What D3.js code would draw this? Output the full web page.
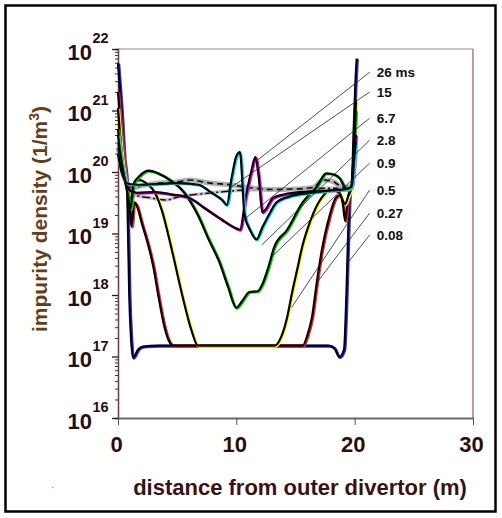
<!DOCTYPE html>
<html>
<head>
<meta charset="utf-8">
<script src="https://cdn.jsdelivr.net/npm/d3@7"></script>
<style>
  body { margin: 0; background: #fff; }
  svg { display: block; }
</style>
</head>
<body>
<svg width="502" height="518"></svg>
<script>

// profiles: [distance (m), density (1/m3)]
var s008 = [[0,5.9e21],[0.3,1e21],[0.55,1.6e20],[0.75,6.5e19],[0.85,1e19],[0.95,1e18],[1.1,2e17],[1.27,9.5e16],[1.7,1.3e17],[2.1,1.45e17],[3.4,1.5e17],[10,1.5e17],[17.8,1.5e17],[18.3,1.35e17],[18.7,9.8e16],[19.1,1.3e17],[19.3,1e18],[19.45,1e19],[19.6,5e19],[19.75,5.8e19],[19.9,4e20],[20.05,2.5e21],[20.17,7e21]];
var s027 = [[0,2e21],[0.3,4e20],[0.6,1e20],[0.8,6e19],[1.0,2.5e19],[1.15,1.3e19],[1.35,3.2e19],[1.6,2.8e19],[2.0,1.5e19],[2.6,6e18],[3.0,2.8e18],[3.4,1e18],[3.9,3.2e17],[4.3,1.8e17],[4.7,1.5e17],[15.6,1.5e17],[16.0,2.2e17],[16.4,4.4e17],[16.8,1.6e18],[17.2,5e18],[17.9,2e19],[18.4,3.8e19],[18.75,4.2e19],[19.0,3e19],[19.2,1.6e19],[19.45,4e19],[19.75,5.8e19],[19.95,3e20],[20.1,1.3e21]];
var s05 = [[0,1.1e21],[0.3,2.2e20],[0.6,8e19],[0.8,5.5e19],[1.05,3.5e19],[1.4,6.9e19],[1.85,7.4e19],[2.5,6.3e19],[3.1,4.7e19],[3.7,2.4e19],[4.55,5.4e18],[5.4,1.05e18],[6.2,2.7e17],[6.75,1.5e17],[13.25,1.5e17],[13.8,2.1e17],[14.3,4.4e17],[14.7,1.07e18],[15.2,2.9e18],[15.5,5.4e18],[16.2,1.5e19],[17.2,3.8e19],[18.1,5.1e19],[18.7,4.6e19],[19.2,3e19],[19.45,4e19],[19.75,5.8e19],[19.95,3e20],[20.12,1.4e21]];
var s09 = [[0,5e20],[0.3,1.5e20],[0.6,7e19],[0.85,4e19],[1.05,2.5e19],[1.35,6.6e19],[1.8,8.5e19],[2.6,1.05e20],[3.5,9.3e19],[4.4,7.4e19],[5.6,4.6e19],[6.8,1.9e19],[7.6,8.5e18],[8.6,3.3e18],[9.3,1.35e18],[10.0,6.2e17],[10.5,8e17],[11.1,1.12e18],[11.8,1.15e18],[12.2,1.5e18],[12.7,2.8e18],[13.2,6e18],[14.3,1.15e19],[15.6,3.2e19],[16.8,5.75e19],[17.6,9.5e19],[18.3,9e19],[18.7,8e19],[19.4,5.1e19],[19.75,5.8e19],[20.0,4e20],[20.1,1e21]];
var s28 = [[0,2e20],[0.3,1e20],[0.75,6.5e19],[1.0,5e19],[1.6,4.6e19],[3.1,4.7e19],[4.6,4.3e19],[6.0,3.8e19],[7.3,2.6e19],[8.8,1.66e19],[9.9,1.23e19],[10.3,1.15e19],[10.8,4e19],[11.3,1.1e20],[11.6,1.74e20],[11.9,8e19],[12.2,2.2e19],[12.5,2.5e19],[13.1,3.8e19],[14.0,4.3e19],[16.0,4.8e19],[18.0,5e19],[19.3,5.2e19],[19.75,5.8e19],[20.0,2e20],[20.1,4e20]];
var s67 = [[0,4e20],[0.3,1.5e20],[0.75,6.5e19],[1.8,6.2e19],[3.5,6.4e19],[5.1,6.6e19],[6.8,6.2e19],[7.9,4.6e19],[8.8,3.5e19],[9.2,2.9e19],[9.6,8e19],[10.0,1.8e20],[10.3,2.1e20],[10.7,2e19],[11.2,1.1e19],[11.7,8e18],[12.2,1.26e19],[12.8,2.1e19],[13.4,3.2e19],[14.5,4e19],[16.0,4.5e19],[18.0,5e19],[19.4,5.3e19],[19.75,5.8e19],[20.0,2e20],[20.1,3e20]];
var s15 = [[0,2.5e20],[0.3,1.2e20],[0.75,6.5e19],[1.3,5.5e19],[2.0,6e19],[3.5,6.6e19],[5.0,6.9e19],[6.1,7.4e19],[7.8,6.6e19],[9.5,6.2e19],[11.0,5.6e19],[13.0,5.2e19],[15.0,5.3e19],[16.5,5.6e19],[17.3,7.4e19],[18.2,7e19],[19.0,5.6e19],[19.75,5.8e19],[20.0,1.5e20],[20.1,2.5e20]];
var s26 = [[0,3e20],[0.3,1.2e20],[0.75,6.5e19],[1.3,4.3e19],[2.7,3.8e19],[4.1,3.5e19],[5.0,3.9e19],[7.0,4.4e19],[9.0,4.8e19],[10.9,5.1e19],[12.5,5.2e19],[15.0,5.3e19],[17.0,5.4e19],[19.0,5.5e19],[19.75,5.8e19],[20.0,1.5e20],[20.1,2.5e20]];

var timeLabels = ["26 ms", "15", "6.7", "2.8", "0.9", "0.5", "0.27", "0.08"];
// where each label sits and which point of the plot its leader line reaches
var labelY = [4.2e21, 2.0e21, 7.5e20, 3.3e20, 1.4e20, 5.1e19, 2.15e19, 9.5e18];
var leaderEnd = [[11.81,1.57e20],[9.28,5.2e19],[10.8,1.78e19],[12.15,6.5e18],[13.0,4.2e18],[14.68,6.3e17],[16.79,1.57e18],[19.41,3.3e18]];

var xTicks = [0, 10, 20, 30];
var decades = [16, 17, 18, 19, 20, 21, 22];

var curves = [
  {data: s008, color: "#2b2bff"},
  {data: s027, color: "#ff2020"},
  {data: s05, color: "#ffff00"},
  {data: s09, color: "#00e000"},
  {data: s28, color: "#ff00ff"},
  {data: s67, color: "#00e8ff"}
];

var svg = d3.select("svg");

var x = d3.scaleLinear().domain([0, 30]).range([118, 473]);
var y = d3.scaleLog().domain([1e16, 1e22]).range([418, 49]);

// outer frame
svg.append("rect")
  .attr("x", 5.5).attr("y", 5.5).attr("width", 490).attr("height", 506)
  .attr("fill", "none").attr("stroke", "#000").attr("stroke-width", 2.5);

// plot box
svg.append("line").attr("x1", 118).attr("x2", 473).attr("y1", 49).attr("y2", 49)
  .attr("stroke", "#8c8c8c").attr("stroke-width", 1.2);
svg.append("line").attr("x1", 473).attr("x2", 473).attr("y1", 49).attr("y2", 418)
  .attr("stroke", "#a07474").attr("stroke-width", 1.4);

// minor log ticks
var minors = [];
decades.slice(0, -1).forEach(function(k) {
  for (var m = 2; m <= 9; m++) minors.push(m * Math.pow(10, k));
});
svg.append("g").attr("transform", "translate(118,0)")
  .call(d3.axisLeft(y).tickValues(minors).tickSize(3).tickFormat(""))
  .call(function(g) {
    g.select(".domain").attr("stroke", "#6e3a3a").attr("stroke-width", 1.5);
    g.selectAll(".tick line").attr("stroke", "#5a2a2a");
  });

var majorVals = decades.map(function(k) { return Math.pow(10, k); });
svg.append("g").attr("transform", "translate(118,0)")
  .call(d3.axisLeft(y).tickValues(majorVals).tickSizeInner(6).tickSizeOuter(0).tickFormat(""))
  .call(function(g) {
    g.select(".domain").remove();
    g.selectAll(".tick line").attr("stroke", "#3a1515").attr("stroke-width", 1.3);
  });

// y tick labels 10^k
var ylab = svg.append("g").attr("fill", "#2d0c0c").attr("font-family", "Liberation Sans, Arial, sans-serif").attr("font-weight", "bold");
decades.forEach(function(k) {
  var py = y(Math.pow(10, k));
  ylab.append("text").attr("x", 92).attr("y", py + 10.5)
    .attr("text-anchor", "end").attr("font-size", 22).text("10");
  ylab.append("text").attr("x", 92.5).attr("y", py - 6)
    .attr("font-size", 14.5).text(k);
});

// x axis
svg.append("g").attr("transform", "translate(0,418)")
  .call(d3.axisBottom(x).tickValues(xTicks).tickSizeInner(7).tickSizeOuter(0).tickPadding(11))
  .call(function(g) {
    g.select(".domain").attr("stroke", "#6a6a6a").attr("stroke-width", 1.8);
    g.selectAll(".tick line").attr("stroke", "#555");
    g.selectAll(".tick text")
      .attr("fill", "#2d0c0c").attr("font-size", 22).attr("font-weight", "bold")
      .attr("font-family", "Liberation Sans, Arial, sans-serif").attr("dx", "-2");
  });

// axis titles
svg.append("text")
  .attr("x", 300).attr("y", 495).attr("text-anchor", "middle")
  .attr("font-family", "Liberation Sans, Arial, sans-serif").attr("font-weight", "bold")
  .attr("font-size", 22).attr("fill", "#3a1212")
  .text("distance from outer divertor (m)");

var yt = svg.append("text")
  .attr("transform", "translate(47,219) rotate(-90)").attr("text-anchor", "middle")
  .attr("font-family", "Liberation Sans, Arial, sans-serif").attr("font-weight", "bold")
  .attr("font-size", 21).attr("fill", "#6a3c16");
yt.append("tspan").text("impurity density (1/m");
yt.append("tspan").attr("font-size", 14).attr("dy", -8).text("3");
yt.append("tspan").attr("dy", 8).text(")");

svg.append("rect").attr("x", 52).attr("y", 487).attr("width", 1.2).attr("height", 1.2).attr("fill", "#888");

// curves
var line = d3.line()
  .x(function(d) { return x(d[0]); })
  .y(function(d) { return y(d[1]); })
  .curve(d3.curveMonotoneX);

var plot = svg.append("g");

// the two late profiles: grey bands with black dashes
plot.append("path").datum(s26).attr("d", line)
  .attr("fill", "none").attr("stroke", "#c4c4c4").attr("stroke-width", 3.5);
plot.append("path").datum(s26).attr("d", line)
  .attr("fill", "none").attr("stroke", "#111").attr("stroke-width", 1.5)
  .attr("stroke-dasharray", "8,3,2,3");
plot.append("path").datum(s15).attr("d", line)
  .attr("fill", "none").attr("stroke", "#b2b2b2").attr("stroke-width", 5);
plot.append("path").datum(s15).attr("d", line)
  .attr("fill", "none").attr("stroke", "#111").attr("stroke-width", 1.6)
  .attr("stroke-dasharray", "6,4");

curves.forEach(function(c) {
  plot.append("path").datum(c.data).attr("d", line)
    .attr("transform", "translate(0.9,0.6)")
    .attr("fill", "none").attr("stroke", c.color).attr("stroke-width", 2.8);
  plot.append("path").datum(c.data).attr("d", line)
    .attr("fill", "none").attr("stroke", "#000").attr("stroke-width", 2.2)
    .attr("stroke-linejoin", "round");
});

// leader lines and time labels
var lx = 21.27, tx = 21.86;
timeLabels.forEach(function(t, i) {
  plot.append("line")
    .attr("x1", x(lx)).attr("y1", y(labelY[i]))
    .attr("x2", x(leaderEnd[i][0])).attr("y2", y(leaderEnd[i][1]))
    .attr("stroke", "#222").attr("stroke-width", 0.8);
  svg.append("text")
    .attr("x", x(tx)).attr("y", y(labelY[i]) + 5)
    .attr("font-family", "Liberation Sans, Arial, sans-serif").attr("font-weight", "bold")
    .attr("font-size", 13.5).attr("fill", "#111")
    .text(t);
});

</script>
</body>
</html>
